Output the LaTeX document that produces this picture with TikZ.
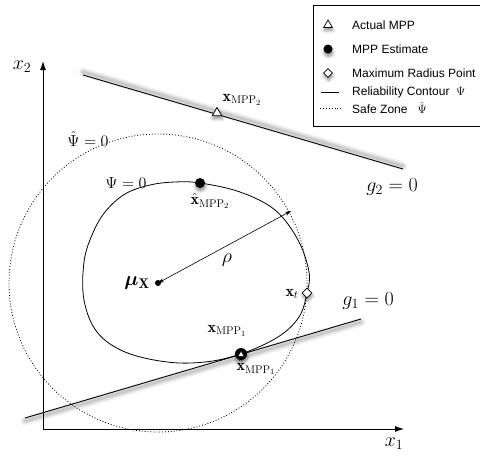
\RequirePackage{fix-cm}
\documentclass[tikz,border=0pt]{standalone}
\usepackage{fontspec}
\newfontfamily\legendfont{Liberation Sans}
\usepackage{bm}
\usetikzlibrary{arrows.meta,shapes.geometric,shadows.blur}
\begin{document}
\begin{tikzpicture}[x=1pt,y=-1pt,
  bigmath/.style={font=\fontsize{20}{22}\selectfont, inner sep=0pt},
  smallmath/.style={font=\fontsize{16}{18}\selectfont, inner sep=0pt},
  legtext/.style={font=\legendfont\fontsize{12}{14}\selectfont, anchor=west, inner sep=0pt},
  trimark/.style={regular polygon, regular polygon sides=3, draw, fill=white, inner sep=0pt, minimum size=12pt, line width=0.8pt},
  diamark/.style={diamond, draw, fill=white, inner sep=0pt, minimum size=10pt, line width=0.8pt},
  dotmark/.style={circle, fill=black, inner sep=0pt, minimum size=10pt},
  mshadow/.style={blur shadow={shadow xshift=0.5pt, shadow yshift=-3pt, shadow blur radius=3pt, shadow opacity=45}},
  axis/.style={line width=0.9pt, {Latex[length=9pt,width=6pt]}-{Latex[length=9pt,width=6pt]}},
  limitline/.style={line width=0.9pt},
  contour/.style={line width=0.8pt},
  safezone/.style={line width=0.8pt, dash pattern=on 0.9pt off 2pt},
  shadowstroke/.style={draw=black, line cap=round},
]
\useasboundingbox (0,0) rectangle (480,458);

% axes
\coordinate (O) at (43,429);
\coordinate (xend) at (404,429);
\coordinate (yend) at (43,61);
\draw[axis] (yend) -- (O) -- (xend);
\node[bigmath] (x1lab) at (394,444) {$x_1$};
\node[bigmath] (x2lab) at (22,67) {$x_2$};

% limit-state lines with soft shadows
\coordinate (g2a) at (83,75);
\coordinate (g2b) at (403,169);
\coordinate (g1a) at (25,418);
\coordinate (g1b) at (361,319);
\foreach \w/\o in {9/0.05,6/0.07,3/0.1}{
  \draw[shadowstroke, line width=\w pt, opacity=\o] ([yshift=3pt]g2a) -- ([yshift=3pt]g2b);
  \draw[shadowstroke, line width=\w pt, opacity=\o] ([yshift=-3pt]g1a) -- ([yshift=-3pt]g1b);
}
\draw[limitline] (g2a) -- (g2b);
\draw[limitline] (g1a) -- (g1b);
\node[bigmath] (g2lab) at (392,187) {$g_2=0$};
\node[bigmath] (g1lab) at (368,301) {$g_1=0$};

% safe zone (dotted circle)
\coordinate (mu) at (158,283);
\draw[safezone] (mu) circle[radius=149];
\node[smallmath] (psihat) at (88,139) {$\hat\Psi=0$};

% reliability contour
\draw[contour] plot[smooth cycle, tension=0.6] coordinates {
 (200,183) (240,192) (275,210) (298,240) (309,272) (307,293) (299,317)
 (278,337) (241,354) (205,362) (167,362) (125,352) (97,332) (84,300)
 (84,262) (92,235) (105,212) (125,194) (150,185) (175,182)};
\node[smallmath] (psilab) at (126,183) {$\Psi=0$};

% radius arrow
\coordinate (rhoend) at (291,211);
\node[circle, fill=black, inner sep=0pt, minimum size=6pt] (mudot) at (mu) {};
\draw[line width=0.6pt, {Stealth[length=6pt,width=4pt]}-{Stealth[length=6pt,width=4pt]}] (mudot.center) -- (rhoend);
\node[bigmath] (rholab) at (227,260) {$\rho$};
\node[bigmath] (mulab) at (137,283) {$\bm{\mu}_{\mathbf{X}}$};

% markers
\node[trimark, mshadow, minimum size=11pt] (mpp2) at (217,113) {};
\node[smallmath] (mpp2lab) at (242,100) {$\mathbf{x}_{\mathrm{MPP}_2}$};
\node[dotmark, mshadow] (mpp2est) at (200,183) {};
\node[smallmath] (mpp2estlab) at (210,201) {$\hat{\mathbf{x}}_{\mathrm{MPP}_2}$};
\node[diamark, mshadow] (xt) at (307,293) {};
\node[smallmath] (xtlab) at (292,294) {$\mathbf{x}_t$};
\node[dotmark, mshadow, minimum size=12pt] (mpp1est) at (241,354) {};
\node[regular polygon, regular polygon sides=3, draw, fill=white, line width=0.5pt, inner sep=0pt, minimum size=7pt] (mpp1) at (241,354.5) {};
\node[smallmath] (mpp1lab) at (227,331) {$\mathbf{x}_{\mathrm{MPP}_1}$};
\node[smallmath] (mpp1estlab) at (256,367) {$\hat{\mathbf{x}}_{\mathrm{MPP}_1}$};

% legend
\coordinate (lb1) at (484,5);
\coordinate (lb2) at (313,5);
\coordinate (lb3) at (313,126);
\coordinate (lb4) at (484,126);
\draw[line width=0.6pt] (lb1) -- (lb2) -- (lb3) -- (lb4);
\node[trimark, mshadow, minimum size=10pt, line width=0.7pt] (legtri) at (328,25) {};
\node[legtext] (legt1) at (352,25) {Actual MPP};
\node[dotmark, mshadow, minimum size=9pt] (legdot) at (328,49) {};
\node[legtext] (legt2) at (352,49) {MPP Estimate};
\node[diamark, mshadow, minimum size=9pt, line width=0.7pt] (legdia) at (328,73) {};
\node[legtext] (legt3) at (352,73) {Maximum Radius Point};
\coordinate (ll1a) at (321,92);
\coordinate (ll1b) at (339,92);
\draw[contour] (ll1a) -- (ll1b);
\node[legtext] (legt4) at (352,92) {Reliability Contour\ \ $\Psi$};
\coordinate (ll2a) at (320,108);
\coordinate (ll2b) at (341,108);
\draw[safezone] (ll2a) -- (ll2b);
\node[legtext] (legt5) at (352,108) {Safe Zone\ \ \ $\hat\Psi$};
\end{tikzpicture}
\end{document}
